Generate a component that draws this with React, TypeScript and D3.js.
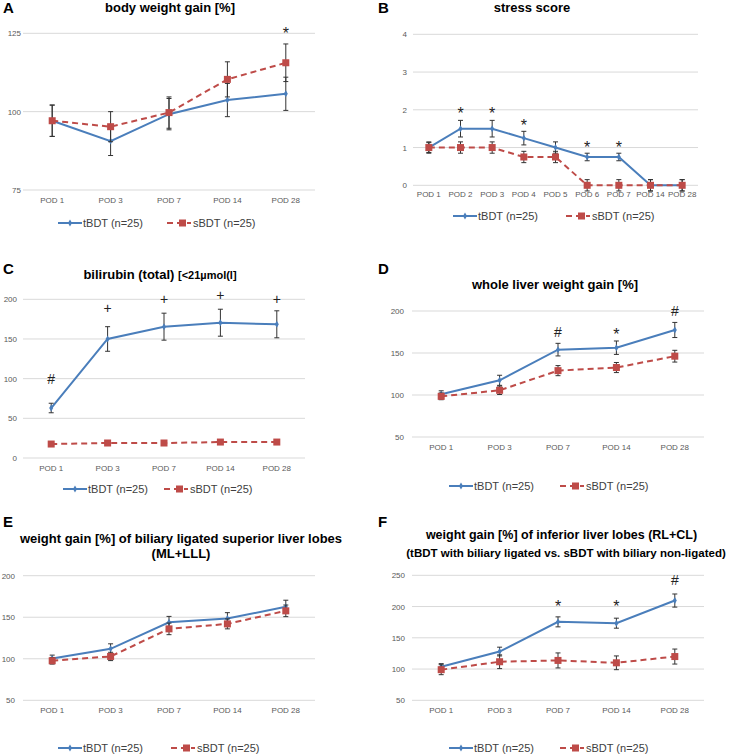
import React from "react";
import * as d3 from "d3";

// ---------- data ----------
const POD5 = ["POD 1", "POD 3", "POD 7", "POD 14", "POD 28"];
const POD9 = ["POD 1", "POD 2", "POD 3", "POD 4", "POD 5", "POD 6", "POD 7", "POD 14", "POD 28"];
const SERIES_NAMES = ["tBDT (n=25)", "sBDT (n=25)"];

// A body weight gain
const A_TICKS = [75, 100, 125];
const A_T = [97.1, 90.6, 99.2, 103.7, 105.7];
const A_T_ERR = [5, 4.6, 5, 5.3, 5.3];
const A_S = [97.1, 95.2, 99.7, 110.3, 115.6];
const A_S_ERR = [5, 4.8, 5, 5.6, 6];
const A_MARKS = [{ cat: "POD 28", value: 126, sym: "*" }];

// B stress score
const B_TICKS = [0, 1, 2, 3, 4];
const B_T = [1, 1.5, 1.5, 1.25, 1, 0.75, 0.75, 0, 0];
const B_T_ERR = [0.13, 0.22, 0.22, 0.18, 0.15, 0.1, 0.1, 0.15, 0.15];
const B_S = [1, 1, 1, 0.75, 0.75, 0, 0, 0, 0];
const B_S_ERR = [0.15, 0.15, 0.15, 0.15, 0.15, 0.15, 0.15, 0.15, 0.15];
const B_MARKS = [
  { cat: "POD 2", value: 2.0, sym: "*" },
  { cat: "POD 3", value: 2.0, sym: "*" },
  { cat: "POD 4", value: 1.68, sym: "*" },
  { cat: "POD 6", value: 1.09, sym: "*" },
  { cat: "POD 7", value: 1.09, sym: "*" },
];

// C bilirubin
const C_TICKS = [0, 50, 100, 150, 200];
const C_T = [63, 150, 165.5, 170.5, 168.5];
const C_T_ERR = [6, 15.5, 17, 17, 17];
const C_S = [17.6, 18.9, 18.9, 20.1, 20.1];
const C_S_ERR = [0, 0, 0, 0, 0];
const C_MARKS = [
  { cat: "POD 1", value: 99, sym: "#" },
  { cat: "POD 3", value: 189, sym: "+" },
  { cat: "POD 7", value: 200, sym: "+" },
  { cat: "POD 14", value: 205, sym: "+" },
  { cat: "POD 28", value: 200, sym: "+" },
];

// D whole liver weight gain
const D_TICKS = [50, 100, 150, 200];
const D_T = [101, 117.5, 154, 156.3, 177.4];
const D_T_ERR = [4, 6, 7.5, 8, 9];
const D_S = [98.4, 105.6, 129, 132.7, 146.2];
const D_S_ERR = [4, 5, 6, 6, 7];
const D_MARKS = [
  { cat: "POD 7", value: 175, sym: "#" },
  { cat: "POD 14", value: 176, sym: "*" },
  { cat: "POD 28", value: 200, sym: "#" },
];

// E superior lobes
const E_TICKS = [50, 100, 150, 200];
const E_T = [100.4, 112, 144, 148.5, 162.5];
const E_T_ERR = [4, 6, 7, 7, 8];
const E_S = [97.6, 102.8, 136, 142, 157.7];
const E_S_ERR = [4, 5, 7, 6, 7];
const E_MARKS: { cat: string; value: number; sym: string }[] = [];

// F inferior lobes
const F_TICKS = [50, 100, 150, 200, 250];
const F_T = [103.7, 128, 175.5, 173.4, 209.6];
const F_T_ERR = [5, 7, 8, 8, 10.5];
const F_S = [99, 111.7, 113.8, 110, 120];
const F_S_ERR = [8, 11, 12, 11, 12];
const F_MARKS = [
  { cat: "POD 7", value: 205, sym: "*" },
  { cat: "POD 14", value: 206, sym: "*" },
  { cat: "POD 28", value: 242, sym: "#" },
];

// ---------- styles ----------
const FONT = "'Liberation Sans', Arial, Helvetica, sans-serif";
const BLUE = "#4a7ebb";
const RED = "#be4b48";
const GRID = "#d9d9d9";
const TICK = "#595959";
const ERRC = "#333333";

type Mark = { cat: string; value: number; sym: string };
type TitleLine = { text: string; size: number; y: number; x: number; extra?: { text: string; size: number } };

interface PanelProps {
  letter: string;
  letterX: number;
  letterY: number;
  titles: TitleLine[];
  cats: string[];
  ticks: number[];
  domain: [number, number];
  x0: number;
  x1: number;
  yTop: number;
  yBot: number;
  tickRight: number;
  catY: number;
  legendY: number;
  legT: number;
  legS: number;
  t: number[];
  tErr: number[];
  s: number[];
  sErr: number[];
  marks: Mark[];
}

const symSize = (sym: string) => (sym === "*" ? 16 : 14);
const symOffset = (sym: string) => (sym === "*" ? 9 : 5);

function Panel(p: PanelProps) {
  const x = d3.scaleBand<string>().domain(p.cats).range([p.x0, p.x1]);
  const y = d3.scaleLinear().domain(p.domain).range([p.yBot, p.yTop]);
  const cx = (c: string) => (x(c) as number) + x.bandwidth() / 2;
  const line = d3
    .line<number>()
    .x((_, i) => cx(p.cats[i]))
    .y((d) => y(d));
  const diamond = d3.symbol().type(d3.symbolDiamond).size(14);
  const cap = 2.5;

  const errBars = (vals: number[], errs: number[], key: string) =>
    vals.map((v, i) =>
      errs[i] > 0 ? (
        <g key={key + i} stroke={ERRC} strokeWidth={1}>
          <line x1={cx(p.cats[i])} x2={cx(p.cats[i])} y1={y(v - errs[i])} y2={y(v + errs[i])} />
          <line x1={cx(p.cats[i]) - cap} x2={cx(p.cats[i]) + cap} y1={y(v - errs[i])} y2={y(v - errs[i])} />
          <line x1={cx(p.cats[i]) - cap} x2={cx(p.cats[i]) + cap} y1={y(v + errs[i])} y2={y(v + errs[i])} />
        </g>
      ) : null
    );

  return (
    <g fontFamily={FONT}>
      <text x={p.letterX} y={p.letterY} fontSize={15} fontWeight="bold" fill="#000">
        {p.letter}
      </text>
      {p.titles.map((tl, i) => (
        <text key={i} x={tl.x} y={tl.y} fontSize={tl.size} fontWeight="bold" fill="#000" textAnchor="middle">
          {tl.text}
          {tl.extra ? <tspan fontSize={tl.extra.size}>{tl.extra.text}</tspan> : null}
        </text>
      ))}
      {p.ticks.map((tk) => (
        <g key={"g" + tk}>
          <line x1={p.x0} x2={p.x1} y1={y(tk)} y2={y(tk)} stroke={GRID} strokeWidth={1} />
          <text x={p.tickRight} y={y(tk) + 3} fontSize={8} fill={TICK} textAnchor="end">
            {tk}
          </text>
        </g>
      ))}
      {p.cats.map((c) => (
        <text key={"c" + c} x={cx(c)} y={p.catY} fontSize={8} fill={TICK} textAnchor="middle">
          {c}
        </text>
      ))}
      <path d={line(p.t) || ""} fill="none" stroke={BLUE} strokeWidth={2} />
      <path d={line(p.s) || ""} fill="none" stroke={RED} strokeWidth={2} strokeDasharray="6,4" />
      {errBars(p.t, p.tErr, "te")}
      {p.t.map((v, i) => (
        <path key={"tm" + i} d={diamond() || ""} transform={`translate(${cx(p.cats[i])},${y(v)})`} fill={BLUE} />
      ))}
      {errBars(p.s, p.sErr, "se")}
      {p.s.map((v, i) => (
        <rect key={"sm" + i} x={cx(p.cats[i]) - 3.5} y={y(v) - 3.5} width={7} height={7} fill={RED} />
      ))}
      {p.marks.map((m, i) => (
        <text
          key={"m" + i}
          x={cx(m.cat)}
          y={y(m.value) + symOffset(m.sym)}
          fontSize={symSize(m.sym)}
          fill="#222"
          textAnchor="middle"
        >
          {m.sym}
        </text>
      ))}
      {/* legend */}
      <line x1={p.legT} x2={p.legT + 24} y1={p.legendY} y2={p.legendY} stroke={BLUE} strokeWidth={2} />
      <path d={diamond() || ""} transform={`translate(${p.legT + 12},${p.legendY})`} fill={BLUE} />
      <text x={p.legT + 25} y={p.legendY + 4} fontSize={11} fill="#404040">
        {SERIES_NAMES[0]}
      </text>
      <line
        x1={p.legS}
        x2={p.legS + 24}
        y1={p.legendY}
        y2={p.legendY}
        stroke={RED}
        strokeWidth={2}
        strokeDasharray="6,4"
      />
      <rect x={p.legS + 12} y={p.legendY - 3.5} width={7} height={7} fill={RED} />
      <text x={p.legS + 26} y={p.legendY + 4} fontSize={11} fill="#404040">
        {SERIES_NAMES[1]}
      </text>
    </g>
  );
}

export default function App() {
  return (
    <svg
      width={730}
      height={756}
      style={{ position: "absolute", left: 0, top: 0, background: "#fff" }}
    >
      <rect width={730} height={756} fill="#fff" />
      <Panel
        letter="A" letterX={3} letterY={13}
        titles={[{ text: "body weight gain [%]", size: 13, x: 170, y: 11.5 }]}
        cats={POD5} ticks={A_TICKS} domain={[75, 125]}
        x0={23} x1={315} yTop={33.3} yBot={190} tickRight={21}
        catY={203.3} legendY={223} legT={58} legS={167}
        t={A_T} tErr={A_T_ERR} s={A_S} sErr={A_S_ERR} marks={A_MARKS}
      />
      <Panel
        letter="B" letterX={378} letterY={13}
        titles={[{ text: "stress score", size: 13, x: 532, y: 11.7 }]}
        cats={POD9} ticks={B_TICKS} domain={[0, 4]}
        x0={413} x1={698} yTop={34.3} yBot={185.3} tickRight={407}
        catY={197.3} legendY={216} legT={453} legS={566}
        t={B_T} tErr={B_T_ERR} s={B_S} sErr={B_S_ERR} marks={B_MARKS}
      />
      <Panel
        letter="C" letterX={3} letterY={274}
        titles={[{ text: "bilirubin (total) ", size: 13, x: 160, y: 279.3, extra: { text: "[<21µmol(l]", size: 11 } }]}
        cats={POD5} ticks={C_TICKS} domain={[0, 200]}
        x0={23} x1={305} yTop={299.3} yBot={458} tickRight={17}
        catY={471} legendY={489} legT={63} legS={164}
        t={C_T} tErr={C_T_ERR} s={C_S} sErr={C_S_ERR} marks={C_MARKS}
      />
      <Panel
        letter="D" letterX={378} letterY={274}
        titles={[{ text: "whole liver weight gain [%]", size: 13, x: 555, y: 289.3 }]}
        cats={POD5} ticks={D_TICKS} domain={[50, 200]}
        x0={412} x1={704} yTop={311} yBot={437} tickRight={404}
        catY={450} legendY={486} legT={449} legS={560}
        t={D_T} tErr={D_T_ERR} s={D_S} sErr={D_S_ERR} marks={D_MARKS}
      />
      <Panel
        letter="E" letterX={3} letterY={527}
        titles={[
          { text: "weight gain [%] of biliary ligated superior liver lobes", size: 13, x: 181, y: 542.7 },
          { text: "(ML+LLL)", size: 13, x: 181, y: 558.3 },
        ]}
        cats={POD5} ticks={E_TICKS} domain={[50, 200]}
        x0={23} x1={315} yTop={575.7} yBot={700.3} tickRight={15}
        catY={713.3} legendY={748} legT={58} legS={171}
        t={E_T} tErr={E_T_ERR} s={E_S} sErr={E_S_ERR} marks={E_MARKS}
      />
      <Panel
        letter="F" letterX={378} letterY={527}
        titles={[
          { text: "weight gain [%] of inferior liver lobes (RL+CL)", size: 12.5, x: 561.5, y: 539.3 },
          { text: "(tBDT with biliary ligated vs. sBDT with biliary non-ligated)", size: 11.5, x: 566, y: 557.3 },
        ]}
        cats={POD5} ticks={F_TICKS} domain={[50, 250]}
        x0={412} x1={704} yTop={575.3} yBot={700.3} tickRight={405}
        catY={713.3} legendY={748} legT={449} legS={560}
        t={F_T} tErr={F_T_ERR} s={F_S} sErr={F_S_ERR} marks={F_MARKS}
      />
    </svg>
  );
}
